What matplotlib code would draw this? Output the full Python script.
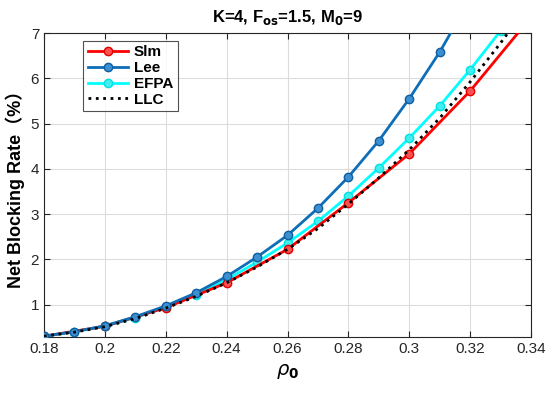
import numpy as np
import matplotlib.pyplot as plt

# ---------------------------------------------------------
# data
# ---------------------------------------------------------
rho_sim = [0.18, 0.20, 0.22, 0.24, 0.26, 0.28, 0.30, 0.32, 0.34]
bl_sim = [0.30, 0.52, 0.93, 1.48, 2.22, 3.25, 4.33, 5.72, 7.35]

rho_lee = [0.18, 0.19, 0.20, 0.21, 0.22, 0.23, 0.24, 0.25, 0.26, 0.27,
           0.28, 0.29, 0.30, 0.31, 0.32]
bl_lee = [0.30, 0.40, 0.53, 0.73, 0.97, 1.26, 1.62, 2.05, 2.53, 3.13,
          3.82, 4.62, 5.55, 6.58, 7.75]

rho_efpa = [0.18, 0.19, 0.20, 0.21, 0.22, 0.23, 0.24, 0.25, 0.26, 0.27,
            0.28, 0.29, 0.30, 0.31, 0.32, 0.33, 0.34]
bl_efpa = [0.30, 0.40, 0.52, 0.71, 0.94, 1.22, 1.55, 1.94, 2.36, 2.84,
           3.40, 4.02, 4.68, 5.39, 6.19, 7.05, 7.95]

rho_llc = [0.18, 0.19, 0.20, 0.21, 0.22, 0.23, 0.24, 0.25, 0.26, 0.27,
           0.28, 0.29, 0.30, 0.31, 0.32, 0.33, 0.34]
bl_llc = [0.30, 0.39, 0.51, 0.69, 0.92, 1.18, 1.48, 1.83, 2.22, 2.68,
          3.22, 3.80, 4.42, 5.12, 5.92, 6.78, 7.70]

xticks = [0.18, 0.2, 0.22, 0.24, 0.26, 0.28, 0.3, 0.32, 0.34]
xticklabels = ["0.18", "0.2", "0.22", "0.24", "0.26", "0.28", "0.3", "0.32", "0.34"]
yticks = [1, 2, 3, 4, 5, 6, 7]

plt.rcParams["font.family"] = ["Liberation Sans", "DejaVu Sans"]

fig = plt.figure(figsize=(5.5, 3.98), dpi=100)
ax = fig.add_axes([0.08, 0.153, 0.8855, 0.764])

ax.plot(rho_sim, bl_sim, "-o", color="#ff0000", lw=2, ms=6,
        mfc="#ff5050", mec="#e00000", label="Slm", zorder=3)
ax.plot(rho_lee, bl_lee, "-o", color="#0e6eb8", lw=2, ms=6,
        mfc="#3c8fd0", mec="#0e5ea0", label="Lee", zorder=4)
ax.plot(rho_efpa, bl_efpa, "-o", color="#00ffff", lw=2, ms=6,
        mfc="#40f0f0", mec="#00e0e0", label="EFPA", zorder=2)
ax.plot(rho_llc, bl_llc, ":", color="black", lw=2, label="LLC", zorder=5)

ax.set_xlim(0.18, 0.34)
ax.set_ylim(0.28, 7)
ax.set_xticks(xticks)
ax.set_xticklabels(xticklabels)
ax.set_yticks(yticks)
ax.tick_params(direction="in", top=True, right=True, labelsize=11,
               length=4, width=0.8, colors="#262626", labelcolor="#262626")
ax.grid(True, color="#dcdcdc", lw=0.8)
ax.set_axisbelow(True)
for s in ax.spines.values():
    s.set_color("#262626")
    s.set_linewidth(0.8)

ax.set_title("K=4, F$_{\\mathbf{os}}$=1.5, M$_{\\mathbf{0}}$=9",
             fontsize=12, fontweight="bold", pad=8)
ax.set_xlabel(r"$\it{\rho}_\mathbf{0}$", fontsize=14, fontweight="bold")
ax.set_ylabel("Net Blocking Rate（%）", fontsize=13, fontweight="bold",
              family=["Liberation Sans", "Noto Sans CJK SC"], labelpad=4)

leg = ax.legend(loc="upper left", bbox_to_anchor=(0.065, 1.0),
                prop={"weight": "bold", "size": 11}, frameon=True,
                fancybox=False, edgecolor="#262626", handlelength=2.6,
                borderpad=0.3, labelspacing=0.12, handletextpad=0.4)
leg.get_frame().set_linewidth(0.8)

fig.savefig("out.png", dpi=100)
